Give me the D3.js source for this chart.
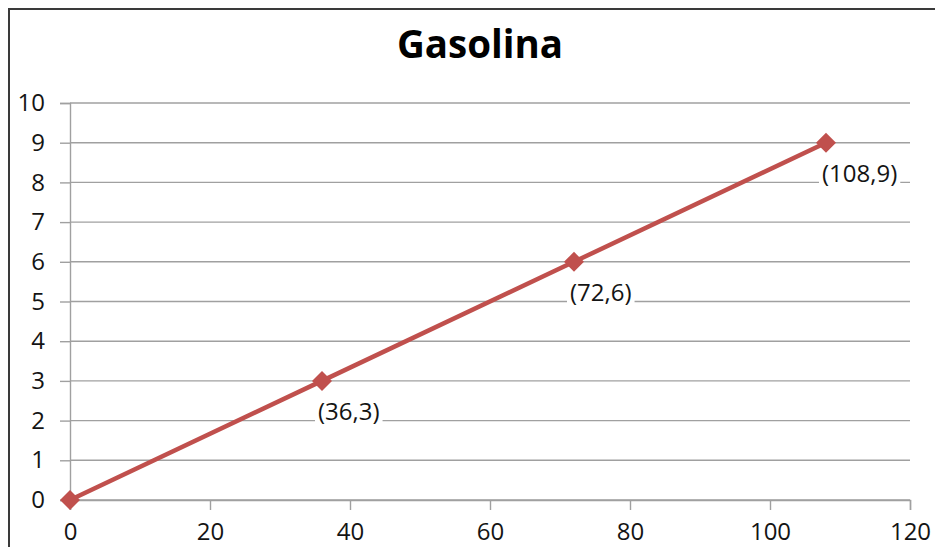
<!DOCTYPE html>
<html>
<head>
<meta charset="utf-8">
<script src="https://cdn.jsdelivr.net/npm/d3@7"></script>
<style>
  html, body { margin: 0; padding: 0; background: #fff; }
  svg { display: block; }
  text { font-family: "Open Sans", "Noto Sans", sans-serif; }
</style>
</head>
<body>
<svg id="chart" width="935" height="547"></svg>
<script>
// ---- data ----
const title = "Gasolina";
const xValues = [0, 36, 72, 108];
const yValues = [0, 3, 6, 9];
const pointLabels = ["", "(36,3)", "(72,6)", "(108,9)"];
const xTicks = [0, 20, 40, 60, 80, 100, 120];
const yTicks = [0, 1, 2, 3, 4, 5, 6, 7, 8, 9, 10];

const W = 935, H = 547;
const svg = d3.select("#chart");
const lineColor = "#C0504D";
const textColor = "#141414";

// frame
svg.append("rect").attr("x", 9).attr("y", 9).attr("width", W + 20).attr("height", H + 20)
  .attr("fill", "#fff").attr("stroke", "#3a3a3a").attr("stroke-width", 2);

const x = d3.scaleLinear().domain([0, 120]).range([70, 910]);
const y = d3.scaleLinear().domain([0, 10]).range([500, 103]);

// title
svg.append("text").attr("x", 480).attr("y", 58).attr("text-anchor", "middle")
  .attr("font-size", 38.5).attr("font-weight", "bold").attr("fill", "#000").text(title);

// y axis with gridlines
const yAxis = svg.append("g").attr("transform", `translate(${x(0)},0)`)
  .call(d3.axisLeft(y).tickValues(yTicks).tickSize(10).tickPadding(15).tickFormat(d3.format("d")));
yAxis.select(".domain").attr("stroke", "#a0a0a0").attr("stroke-width", 1.4);
yAxis.selectAll(".tick line").attr("stroke", "#a0a0a0").attr("stroke-width", 1.4);
yAxis.selectAll(".tick text").attr("font-size", 24).attr("fill", textColor)
  .attr("font-family", "'Open Sans', sans-serif");

const grid = svg.append("g");
grid.selectAll("line").data(yTicks).join("line")
  .attr("x1", x(0)).attr("x2", x(120))
  .attr("y1", d => y(d)).attr("y2", d => y(d))
  .attr("stroke", "#a0a0a0").attr("stroke-width", 1.4);

// x axis
const xAxis = svg.append("g").attr("transform", `translate(0,${y(0)})`)
  .call(d3.axisBottom(x).tickValues(xTicks).tickSize(10).tickPadding(8).tickFormat(d3.format("d")));
xAxis.select(".domain").attr("stroke", "#a0a0a0").attr("stroke-width", 1.4);
xAxis.selectAll(".tick line").attr("stroke", "#a0a0a0").attr("stroke-width", 1.4);
xAxis.selectAll(".tick text").attr("font-size", 24).attr("fill", textColor)
  .attr("font-family", "'Open Sans', sans-serif").attr("dy", "0.9em");

const pts = xValues.map((v, i) => ({ x: v, y: yValues[i], label: pointLabels[i] }));

// data labels with white backgrounds
const labG = svg.append("g");
pts.filter(d => d.label).forEach(d => {
  const g = labG.append("g");
  const t = g.append("text").attr("x", x(d.x) - 4).attr("y", y(d.y) + 39)
    .attr("font-size", 24).attr("fill", textColor).text(d.label);
  const bb = t.node().getBBox();
  g.insert("rect", "text").attr("x", bb.x - 3).attr("y", bb.y)
    .attr("width", bb.width + 6).attr("height", bb.height).attr("fill", "#fff");
});

// line
svg.append("path").datum(pts)
  .attr("d", d3.line().x(d => x(d.x)).y(d => y(d.y)))
  .attr("fill", "none").attr("stroke", lineColor).attr("stroke-width", 4.5);

// markers
svg.append("g").selectAll("path").data(pts).join("path")
  .attr("d", d3.symbol(d3.symbolSquare, 200))
  .attr("transform", d => `translate(${x(d.x)},${y(d.y)}) rotate(45)`)
  .attr("fill", lineColor);
</script>
</body>
</html>
